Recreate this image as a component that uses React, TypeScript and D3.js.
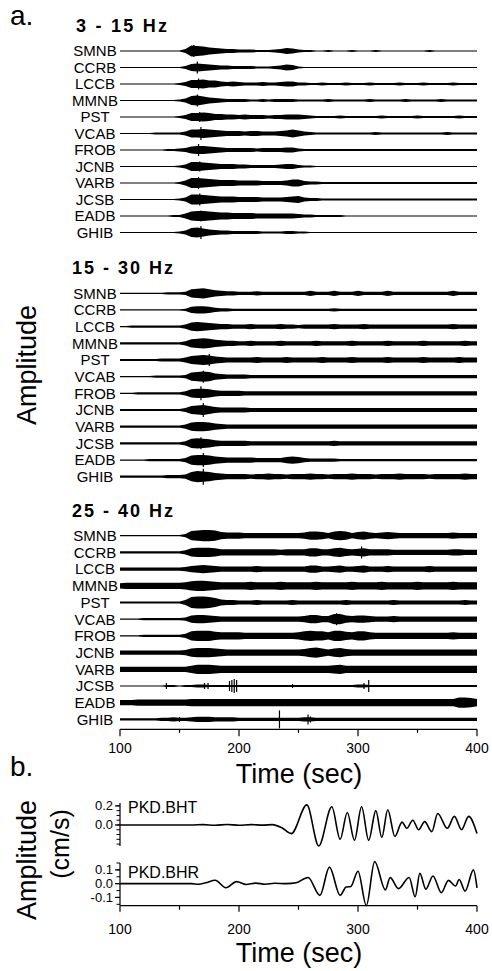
import React, { useRef, useEffect } from "react";
import * as d3 from "d3";

const FONT = "'Liberation Sans', Arial, Helvetica, sans-serif";

const stations = ["SMNB", "CCRB", "LCCB", "MMNB", "PST", "VCAB", "FROB", "JCNB", "VARB", "JCSB", "EADB", "GHIB"];
const bandTitles = ["3 - 15 Hz", "15 - 30 Hz", "25 - 40 Hz"];
// envelope samples every 5 s, 100..400 s
const sampleTimes = d3.range(100, 401, 5);
const timeTicks = [100, 200, 300, 400];
const timeMinorTicks = [150, 250, 350];

// envelope half-widths (1 unit = 0.5 px), one row per station
const band1 = [
  [1,1,1,1,1,1,1,1,1,1, 1,4,11,10,9,7,6,5,4,4, 3,3,3,2,2,2,3,4,6,5, 3,2,2,1,1,2,1,1,1,2, 1,1,1,2,1,1,1,1,1,1, 1,1,2,1,1,1,1,1,1,1, 1],
  [1,1,1,1,1,1,1,1,1,1, 1,3,7,8,7,6,5,4,4,3, 3,3,3,2,2,2,3,4,6,5, 2,1,1,1,1,1,1,1,1,1, 1,1,1,1,1,1,1,1,1,1, 1,1,1,1,1,1,1,1,1,1, 1],
  [1,1,1,1,1,1,1,1,1,1, 2,4,8,8,9,7,7,5,4,5, 4,3,3,3,4,3,3,4,5,5, 3,3,2,2,3,2,2,2,3,2, 2,2,3,2,2,2,2,3,2,2, 2,3,2,2,2,2,3,2,2,2, 2],
  [1,1,1,1,1,1,1,1,1,1, 2,4,9,10,8,6,5,4,3,3, 3,3,2,2,3,2,3,3,3,3, 2,2,2,2,2,3,2,2,2,2, 2,2,3,2,2,2,2,2,3,2, 2,2,2,2,3,2,2,2,2,2, 2],
  [1,1,1,1,1,1,1,1,1,1, 2,4,8,8,9,8,6,6,5,5, 4,5,4,4,4,3,4,4,5,5, 5,4,3,2,2,2,2,3,2,2, 2,2,2,2,3,2,2,2,2,2, 3,2,2,2,2,2,2,3,2,2, 2],
  [1,1,1,1,1,1,2,2,2,2, 2,4,8,8,9,8,7,6,5,5, 5,4,5,5,4,4,4,5,6,8, 6,4,3,2,2,2,2,2,2,2, 2,2,2,3,2,2,2,2,2,2, 2,2,2,2,2,3,2,2,2,2, 2],
  [1,1,1,1,1,1,1,1,2,2, 3,4,7,8,8,7,6,5,4,4, 4,4,4,3,4,4,4,4,5,5, 3,2,2,2,2,2,2,2,2,2, 2,2,2,2,2,2,2,2,2,2, 2,2,2,2,2,2,2,2,2,2, 2],
  [1,1,1,1,1,1,1,1,1,1, 2,4,9,9,8,7,6,5,5,5, 4,4,3,3,3,3,3,4,5,5, 3,2,2,1,1,1,1,1,1,1, 1,1,1,1,1,1,1,1,1,1, 1,1,1,1,1,1,1,1,1,1, 1],
  [1,1,1,1,1,1,1,1,1,1, 2,5,10,10,9,8,7,6,6,6, 5,5,5,5,4,4,4,4,5,7, 7,4,3,3,2,2,2,2,2,2, 2,2,2,2,2,2,2,2,2,2, 2,2,2,2,2,2,2,2,2,2, 2],
  [1,1,1,1,1,1,1,1,1,1, 2,4,10,10,9,8,7,6,6,6, 5,5,5,5,4,4,4,4,5,6, 7,4,3,3,2,2,2,2,2,2, 2,2,2,2,2,2,2,2,2,2, 2,2,2,2,2,2,2,2,2,2, 2],
  [1,1,1,1,1,1,1,1,1,2, 2,5,9,10,10,9,8,7,7,6, 6,6,6,5,5,5,5,5,5,5, 4,3,3,2,2,2,2,2,1,1, 1,1,1,1,1,1,1,1,1,1, 1,1,1,1,1,1,1,1,1,1, 1],
  [1,1,1,1,1,1,1,1,1,1, 2,4,9,10,8,6,5,4,4,3, 3,3,3,3,2,2,2,2,3,3, 2,2,1,1,1,1,1,1,1,1, 1,1,1,1,1,1,1,1,1,1, 1,1,1,1,1,1,1,1,1,1, 1],
];

const band2 = [
  [1,1,1,1,1,1,1,1,2,2, 2,3,8,9,10,8,6,5,4,4, 3,3,3,4,3,3,3,3,3,3, 3,3,5,3,3,3,5,3,3,3, 5,3,3,3,3,5,3,3,3,3, 3,3,3,3,3,3,5,3,3,3, 3],
  [1,1,1,1,1,1,1,1,1,1, 1,2,6,7,7,6,4,3,3,2, 2,2,2,2,2,2,2,2,2,2, 2,2,2,2,2,2,3,2,2,2, 2,2,2,2,2,2,2,2,2,2, 2,2,2,2,2,2,2,2,2,2, 2],
  [1,1,2,2,2,2,2,2,2,2, 2,4,8,9,8,7,6,5,5,4, 4,4,5,4,4,4,4,5,4,4, 3,4,4,4,4,4,5,4,4,4, 4,5,4,4,4,4,4,4,4,4, 4,4,4,4,4,4,5,4,4,4, 4],
  [2,2,2,2,2,2,2,2,2,2, 2,4,8,9,10,9,7,6,5,5, 4,4,5,4,4,4,4,5,4,4, 4,4,4,5,4,4,4,4,4,5, 4,4,4,4,4,5,4,4,4,4, 4,5,4,4,4,4,4,4,5,4, 4],
  [2,2,2,2,2,2,2,3,3,3, 3,5,8,9,10,9,7,6,5,5, 5,5,5,6,5,5,5,5,6,5, 5,5,5,5,6,5,5,5,5,6, 5,5,5,5,5,6,5,5,5,5, 5,6,5,5,5,5,5,6,5,5, 5],
  [1,1,1,1,1,1,2,2,2,2, 2,3,8,9,10,9,6,5,4,4, 4,4,3,3,3,3,3,3,3,3, 3,3,3,3,3,3,3,3,3,3, 3,3,3,3,3,3,3,3,3,3, 3,3,3,3,3,3,3,3,3,3, 3],
  [1,1,1,2,2,2,2,2,2,2, 2,4,8,9,9,8,6,5,5,5, 5,4,4,4,4,4,4,4,4,4, 4,4,4,4,4,4,4,4,4,4, 4,4,4,4,4,4,4,4,4,4, 4,4,4,4,4,4,4,4,4,4, 4],
  [2,2,2,2,2,2,2,2,2,2, 2,4,8,9,10,8,6,5,5,5, 5,5,4,4,4,4,4,4,4,4, 4,4,4,4,4,4,4,4,4,4, 4,4,4,4,4,4,4,4,4,4, 4,4,4,4,4,4,4,4,4,4, 4],
  [2,2,2,2,2,2,2,2,2,2, 2,4,8,9,9,8,6,5,4,4, 4,4,4,4,4,4,4,4,4,4, 4,4,4,4,4,4,4,4,4,4, 4,4,4,4,4,4,4,4,4,4, 4,4,4,4,4,4,4,4,4,4, 4],
  [2,2,2,2,2,2,2,2,2,2, 2,4,9,10,9,8,6,5,5,5, 5,5,4,4,4,4,4,4,4,4, 4,4,4,4,4,4,5,4,4,4, 4,4,4,4,4,4,4,4,4,4, 4,4,4,4,4,4,4,4,4,4, 4],
  [1,1,1,1,1,2,2,2,2,2, 2,4,9,10,10,9,7,6,5,5, 5,5,5,4,4,4,4,4,6,7, 6,4,3,3,3,3,3,2,2,2, 2,2,2,2,2,2,2,2,2,2, 2,2,2,2,2,2,2,2,2,2, 2],
  [2,2,2,2,2,2,2,2,3,3, 3,4,9,11,10,9,7,6,5,5, 5,5,4,5,5,6,5,5,4,5, 5,5,6,5,5,4,5,5,5,6, 5,5,5,4,5,5,5,6,5,5, 5,5,4,5,5,5,5,5,6,5, 5],
];

const band3 = [
  [1,1,1,1,1,1,1,1,1,1, 1,3,9,10,11,11,10,7,6,6, 6,5,5,5,5,5,5,5,5,5, 5,6,8,8,7,5,8,9,8,5, 7,8,6,5,6,7,6,5,5,5, 5,5,5,5,5,5,6,5,5,5, 5],
  [2,2,2,2,2,2,2,2,2,2, 2,4,8,9,9,9,8,6,6,6, 6,6,6,6,6,6,6,5,6,6, 6,6,8,8,6,6,8,9,7,6, 7,8,6,6,6,6,5,5,5,5, 5,5,5,5,5,5,6,6,5,5, 5],
  [3,3,3,3,3,3,3,3,3,3, 3,4,6,7,8,7,6,5,5,5, 5,5,5,6,5,5,5,5,5,5, 5,5,7,7,5,5,6,7,5,5, 6,7,5,5,5,6,5,5,5,5, 5,5,6,5,5,5,5,5,5,5, 5],
  [5,6,6,6,6,6,6,6,6,6, 6,7,9,10,10,9,8,7,7,7, 7,7,8,7,7,7,7,8,7,7, 7,7,7,8,7,7,7,7,7,8, 7,7,7,7,8,7,7,7,7,7, 8,7,7,7,7,7,8,7,7,7, 7],
  [2,2,2,2,2,2,2,2,2,2, 2,5,11,12,12,11,9,6,5,5, 4,4,4,5,4,4,4,4,4,5, 4,4,4,4,4,4,4,4,5,4, 4,4,4,4,4,4,5,4,4,4, 4,4,4,4,4,4,4,4,5,4, 4],
  [1,1,1,1,2,2,2,2,2,2, 2,3,7,8,8,7,6,5,5,5, 5,5,5,5,5,5,5,5,5,5, 5,6,8,8,6,6,10,10,7,6, 7,7,6,5,5,5,6,5,5,5, 5,5,5,5,5,5,5,5,5,5, 5],
  [1,1,1,1,2,2,2,2,2,2, 2,4,9,10,10,10,8,7,7,7, 7,6,6,6,6,6,6,6,6,6, 7,9,10,9,9,7,10,10,8,7, 9,9,7,6,6,6,6,6,6,6, 6,6,6,6,6,6,7,6,6,6, 6],
  [4,4,4,4,4,4,4,4,4,4, 4,5,8,9,9,9,8,7,6,6, 6,6,6,6,6,6,6,6,6,6, 6,7,9,10,8,6,8,9,7,6, 6,6,6,6,6,6,6,6,6,6, 6,6,6,6,6,6,6,6,6,6, 6],
  [5,5,5,5,5,5,5,5,5,5, 5,5,7,9,9,9,8,7,7,7, 7,7,7,7,7,7,7,7,7,7, 7,7,7,7,7,7,8,9,7,7, 7,7,7,7,7,7,7,7,7,7, 7,7,7,7,7,7,7,7,7,7, 7],
  [1,1,1,1,1,1,1,1,2,2, 1,2,2,3,3,2,2,2,2,2, 2,2,2,2,2,2,2,2,2,2, 2,2,2,2,2,2,2,2,2,2, 3,3,2,2,2,2,2,2,2,2, 2,2,2,2,2,2,2,2,2,2, 2],
  [5,5,5,6,6,6,6,6,6,6, 6,6,7,7,7,7,7,7,7,7, 7,7,7,7,7,7,7,7,7,7, 7,7,7,7,7,7,7,7,7,7, 7,7,7,7,7,7,7,7,7,7, 7,7,7,7,7,7,7,10,10,9, 7],
  [2,2,2,2,2,2,2,3,3,4, 3,3,4,5,5,5,4,4,4,4, 3,3,3,3,3,3,3,3,3,3, 3,4,4,3,3,3,3,3,3,3, 3,3,3,3,3,3,3,3,3,3, 3,3,3,3,3,3,3,3,3,3, 3],
];

// sharp arrivals: [station index, time (s), half-width (same units)]
const spikes1 = [[0,162,12],[1,165,12],[2,166,11],[3,165,12],[4,167,10],[5,168,13],[6,166,12],[7,167,10],[8,166,12],[9,167,12],[10,168,11],[11,168,13]];
const spikes2 = [[4,175,12],[5,170,12],[6,168,14],[7,170,14],[9,168,12],[10,170,14],[11,170,16]];
const spikes3 = [[9,139,6],[9,171,6],[9,174,6],[9,192,10],[9,194,12],[9,196,14],[9,198,12],[9,245,4],[9,305,6],[9,309,12],
  [11,150,5],[11,234,18],[11,258,10],[11,260,6],[1,303,12],[5,282,12]];

// panel b, broadband velocity (cm/s) at turning points
const pkdBHT = [[100,0],[160,0],[170,0.004],[180,-0.003],[190,0.005],[200,-0.003],[210,0.004],[220,-0.002],[228,0.004],[236,-0.03],
  [244,-0.09],[257,0.21],[267,-0.22],[278,0.19],[285,-0.15],[291,0.13],[297,-0.16],[303,0.19],[309,-0.16],[315,0.15],[320,-0.13],
  [325,0.16],[331,-0.12],[337,0.03],[341,-0.035],[346,0.05],[351,-0.05],[356,0.035],[362,-0.07],[367,0.12],[375,-0.035],
  [381,0.09],[387,-0.05],[393,0.09],[400,-0.09]];
const pkdBHR = [[100,0],[160,0],[166,-0.004],[172,0.006],[180,0.025],[189,-0.03],[198,0.015],[206,-0.006],[214,0.004],[222,-0.004],
  [230,0.003],[240,0],[248,0.006],[258,0.045],[268,-0.085],[276,0.12],[285,-0.085],[290,-0.025],[294,-0.02],[300,0.09],
  [307,-0.16],[314,0.16],[323,-0.045],[327,0.044],[334,-0.036],[343,0.045],[348,-0.095],[352,0.075],[357,-0.04],[363,0.056],
  [370,-0.066],[376,0.024],[382,-0.017],[385,0.03],[390,-0.054],[397,0.1],[400,-0.03]];
const bhtTicks = [0.2, 0.0];
const bhrTicks = [0.1, 0.0, -0.1];

const App = () => {
  const svgRef = useRef(null);

  useEffect(() => {
    const svg = d3.select(svgRef.current);
    svg.selectAll("*").remove();

    const x = d3.scaleLinear().domain([100, 400]).range([120, 477]);
    const amp = d3.scaleLinear().domain([0, 10]).range([0, 5]);

    const text = (tx, ty, str, size, opts: any = {}) =>
      svg.append("text")
        .attr("x", tx).attr("y", ty)
        .attr("font-family", FONT)
        .attr("font-size", size)
        .attr("font-weight", opts.bold ? "bold" : "normal")
        .attr("text-anchor", opts.anchor || "start")
        .attr("transform", opts.rotate ? `rotate(-90,${tx},${ty})` : null)
        .text(str);

    text(10, 25, "a.", 28);
    text(10, 776, "b.", 28);

    const panels = [
      { rows: band1, spikes: spikes1, range: [51, 232.5], tx: 76, ty: 32.3, tw: 91 },
      { rows: band2, spikes: spikes2, range: [293.3, 476.7], tx: 72, ty: 274, tw: 101 },
      { rows: band3, spikes: spikes3, range: [535.7, 719.4], tx: 72, ty: 516.7, tw: 101 },
    ];

    panels.forEach((p, pi) => {
      const y = d3.scalePoint().domain(stations).range(p.range);
      text(p.tx, p.ty, bandTitles[pi], 18, { bold: true }).attr("textLength", p.tw).attr("lengthAdjust", "spacing");

      p.rows.forEach((row, i) => {
        const cy = y(stations[i]);
        const area = d3.area()
          .x((d, j) => x(sampleTimes[j]))
          .y0((d) => cy + amp(d) + 0.1)
          .y1((d) => cy - amp(d) - 0.1);
        svg.append("path").attr("d", area(row)).attr("fill", "#000");
        text(95, cy + 5.3, stations[i], 15, { anchor: "middle" });
      });

      svg.append("g").selectAll("line")
        .data(p.spikes)
        .enter().append("line")
        .attr("x1", (d) => x(d[1])).attr("x2", (d) => x(d[1]))
        .attr("y1", (d) => y(stations[d[0]]) - amp(d[2]))
        .attr("y2", (d) => y(stations[d[0]]) + amp(d[2]))
        .attr("stroke", "#000").attr("stroke-width", 1.2);
    });

    // time axis of panel a
    const axisA = 729.3;
    svg.append("line").attr("x1", 120).attr("x2", 477).attr("y1", axisA).attr("y2", axisA)
      .attr("stroke", "#000").attr("stroke-width", 1.2);
    timeTicks.forEach((t) => {
      svg.append("line").attr("x1", x(t)).attr("x2", x(t)).attr("y1", axisA).attr("y2", axisA + 7)
        .attr("stroke", "#000").attr("stroke-width", 1.2);
      text(x(t), 753, t, 14, { anchor: "middle" });
    });
    timeMinorTicks.forEach((t) => {
      svg.append("line").attr("x1", x(t)).attr("x2", x(t)).attr("y1", axisA).attr("y2", axisA + 3.5)
        .attr("stroke", "#000").attr("stroke-width", 1.2);
    });
    text(299, 783, "Time (sec)", 27, { anchor: "middle" });
    text(36, 365, "Amplitude", 27, { anchor: "middle", rotate: true });

    // panel b
    const yT = d3.scaleLinear().domain([-0.22, 0.23]).range([846, 803]);
    const yR = d3.scaleLinear().domain([-0.16, 0.15]).range([905.7, 863]);

    const drawTrace = (data, ys, ticks, minor, name, nameY) => {
      const line = d3.line().x((d) => x(d[0])).y((d) => ys(d[1])).curve(d3.curveMonotoneX);
      svg.append("path").attr("d", line(data)).attr("fill", "none")
        .attr("stroke", "#000").attr("stroke-width", 1.6).attr("stroke-linejoin", "round");
      const [lo, hi] = ys.domain();
      svg.append("line").attr("x1", 120).attr("x2", 120).attr("y1", ys(lo)).attr("y2", ys(hi))
        .attr("stroke", "#000").attr("stroke-width", 1.2);
      minor.forEach((v) => {
        svg.append("line").attr("x1", 116.5).attr("x2", 120).attr("y1", ys(v)).attr("y2", ys(v))
          .attr("stroke", "#000").attr("stroke-width", 1);
      });
      ticks.forEach((v) => {
        svg.append("line").attr("x1", 115).attr("x2", 120).attr("y1", ys(v)).attr("y2", ys(v))
          .attr("stroke", "#000").attr("stroke-width", 1.2);
        text(113, ys(v) + 4.5, d3.format(".1f")(v).replace("−", "-"), 13, { anchor: "end" });
      });
      text(128, nameY, name, 16);
    };

    drawTrace(pkdBHT, yT, bhtTicks, d3.range(-0.2, 0.21, 0.05), "PKD.BHT", 813.3);
    drawTrace(pkdBHR, yR, bhrTicks, d3.range(-0.15, 0.151, 0.05), "PKD.BHR", 877.7);

    const axisB = 905.7;
    svg.append("line").attr("x1", 120).attr("x2", 477).attr("y1", axisB).attr("y2", axisB)
      .attr("stroke", "#000").attr("stroke-width", 1.2);
    timeTicks.forEach((t) => {
      svg.append("line").attr("x1", x(t)).attr("x2", x(t)).attr("y1", axisB).attr("y2", axisB + 6)
        .attr("stroke", "#000").attr("stroke-width", 1.2);
      text(x(t), 934, t, 14, { anchor: "middle" });
    });
    timeMinorTicks.forEach((t) => {
      svg.append("line").attr("x1", x(t)).attr("x2", x(t)).attr("y1", axisB).attr("y2", axisB + 4)
        .attr("stroke", "#000").attr("stroke-width", 1.2);
    });
    text(299, 962, "Time (sec)", 27, { anchor: "middle" });
    text(36, 860, "Amplitude", 27, { anchor: "middle", rotate: true });
    text(69, 844, "(cm/s)", 25, { anchor: "middle", rotate: true });
  }, []);

  return (
    <svg ref={svgRef} width={492} height={971}
      style={{ position: "absolute", left: 0, top: 0, background: "#fff" }} />
  );
};

export default App;
